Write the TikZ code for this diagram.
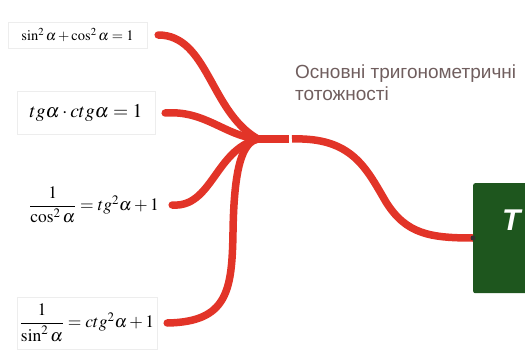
\documentclass[tikz,border=0pt]{standalone}
\usepackage{amsmath}
\usepackage{mathptmx}
\usepackage{fontspec}
\setmainfont{Liberation Serif}
\newfontfamily\labelfont{Liberation Sans}
\usepackage{tikz}
\usetikzlibrary{positioning,calc}
\definecolor{branchcolor}{RGB}{226,52,40}
\definecolor{topiccolor}{RGB}{30,86,30}
\definecolor{labelcolor}{RGB}{112,94,94}
\tikzset{
  formula/.style={
    draw=black!7,
    fill=white,
    inner sep=2pt
  },
  branch/.style={
    draw=branchcolor,
    line width=7.5pt,
    line cap=round
  },
  topic/.style={
    fill=topiccolor,
    rounded corners=2pt,
    minimum width=80pt,
    minimum height=110pt,
    anchor=north west
  }
}

\begin{document}
\begin{tikzpicture}[x=1pt, y=-1pt]

  \useasboundingbox (0,0) rectangle (525,361);
  \clip (0,0) rectangle (525,361);

  % Formulas
  \node[formula, minimum width=139pt, minimum height=26pt, font=\fontsize{14.5}{14.5}\selectfont] at (77.5,35) (f1) {$\sin^2\alpha+\cos^2\alpha=1$};
  \node[formula, minimum width=138pt, minimum height=43pt, font=\fontsize{19.5}{19.5}\selectfont] at (86,113) (f2) {$tg\alpha\cdot ctg\alpha=1$};
  \node[formula, draw=none, minimum width=134pt, minimum height=48pt, font=\fontsize{17.5}{17.5}\selectfont] at (94,205) (f3) {$\dfrac{1}{\cos^2\alpha}=tg^2\alpha+1$};
  \node[formula, minimum width=140pt, minimum height=52pt, font=\fontsize{17.5}{17.5}\selectfont] at (87,323) (f4) {$\dfrac{1}{\sin^2\alpha}=ctg^2\alpha+1$};

  % Hub and topic
  \coordinate (hub) at (258,139);
  \coordinate (notch) at (289,139);
  \node[topic] at (473,183) (box) {};
  \node[anchor=base west, inner sep=0pt, text=white, font=\labelfont\fontsize{30}{30}\selectfont\bfseries\itshape] at ([xshift=29pt,yshift=-47pt]box.north west) (title) {Т};

  % Label
  \node[anchor=base west, align=left, text=labelcolor, inner sep=0pt,
        font=\labelfont\fontsize{19}{22}\selectfont] at (295,100) (label) {Основні тригонометричні\\тотожності};

  % Branches
  \draw[branch] ([xshift=11pt]f1.east) .. controls (208,35) and (210,112) .. (hub);
  \draw[branch] ([xshift=10pt]f2.east) .. controls (205,110) and (225,136) .. (hub);
  \draw[branch] ([xshift=11pt]f3.east) .. controls (212,208) and (215,150) .. (hub);
  \draw[branch] ([xshift=10pt]f4.east) .. controls (228,322) and (232,290) .. (233,232)
                .. controls (234,168) and (242,142) .. (hub);
  \draw[branch, line cap=butt] (hub) -- (notch);
  \draw[branch, line cap=butt] ([xshift=3pt]notch) .. controls (352,137) and (366,168) .. (386,202)
                .. controls (406,234) and (430,238) .. (box.west |- 0,238);
  \fill[black!80] (box.west |- 0,238) circle (2.5pt);

\end{tikzpicture}
\end{document}
